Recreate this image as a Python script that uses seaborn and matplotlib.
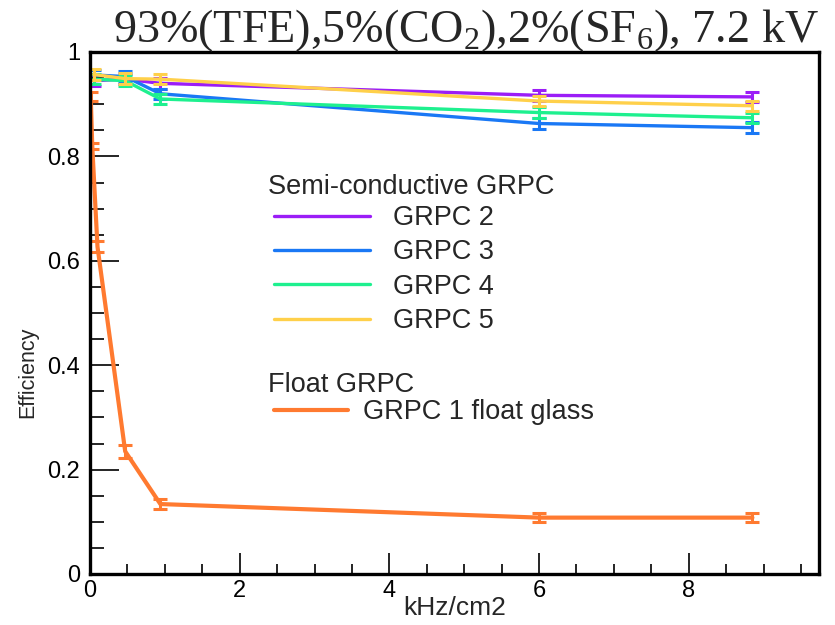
import numpy as np
import pandas as pd
import matplotlib
matplotlib.use("Agg")
import matplotlib.pyplot as plt
import seaborn as sns
from matplotlib.lines import Line2D
from matplotlib.ticker import MultipleLocator, FuncFormatter

sns.set_style("white")
plt.rcParams['font.family'] = ['Liberation Sans', 'DejaVu Sans']
plt.rcParams['mathtext.fontset'] = 'custom'
plt.rcParams['mathtext.rm'] = 'Liberation Serif'

# ---------------- data ----------------
semi_x = [0.05, 0.47, 0.94, 6.0, 8.85]
grpc2 = [0.945, 0.948, 0.940, 0.917, 0.914]
grpc3 = [0.956, 0.953, 0.920, 0.863, 0.855]
grpc4 = [0.948, 0.945, 0.910, 0.884, 0.874]
grpc5 = [0.957, 0.949, 0.948, 0.906, 0.897]
semi_err = [0.010, 0.010, 0.010, 0.010, 0.010]

float_x = [0.01, 0.03, 0.10, 0.47, 0.94, 6.0, 8.85]
grpc1 = [0.915, 0.820, 0.627, 0.235, 0.134, 0.108, 0.108]
float_err = [0.008, 0.006, 0.010, 0.012, 0.010, 0.008, 0.008]

names = ["GRPC 2", "GRPC 3", "GRPC 4", "GRPC 5", "GRPC 1 float glass"]
colors = ["#9b1df7", "#1a78f5", "#1ef08f", "#ffd04a", "#ff7a30"]

rows = []
for nm, ys in zip(names[:4], [grpc2, grpc3, grpc4, grpc5]):
    for x, y, e in zip(semi_x, ys, semi_err):
        rows.append((nm, x, y, e))
for x, y, e in zip(float_x, grpc1, float_err):
    rows.append((names[4], x, y, e))
df = pd.DataFrame(rows, columns=["series", "rate", "eff", "err"])

fig = plt.figure(figsize=(8.35, 6.25), dpi=100)
ax = fig.add_axes([90/835, 1-574/625, (819-90)/835, (574-52)/625])

palette = dict(zip(names, colors))
widths = {n: 2.4 for n in names[:4]}
widths[names[4]] = 3.0
for nm in names:
    sub = df[df.series == nm]
    sns.lineplot(data=sub, x="rate", y="eff", color=palette[nm], lw=widths[nm],
                 ax=ax, legend=False, sort=False, estimator=None)
    ax.errorbar(sub["rate"], sub["eff"], yerr=sub["err"], fmt="none",
                ecolor=palette[nm], elinewidth=2.2, capsize=5, capthick=2.2)

ax.set_xlim(0, 9.74)
ax.set_ylim(0, 1)
ax.xaxis.set_major_locator(MultipleLocator(2))
ax.xaxis.set_minor_locator(MultipleLocator(0.5))
ax.yaxis.set_major_locator(MultipleLocator(0.2))
ax.yaxis.set_minor_locator(MultipleLocator(0.05))
fmt = FuncFormatter(lambda v, p: "%g" % round(v, 2))
ax.xaxis.set_major_formatter(fmt)
ax.yaxis.set_major_formatter(fmt)
ax.tick_params(axis="both", which="both", direction="in", top=False, right=False,
               bottom=True, left=True, labelsize=17, colors="black")
ax.tick_params(axis="x", which="major", length=15, width=1.2, pad=4)
ax.tick_params(axis="x", which="minor", length=7, width=1.2)
ax.tick_params(axis="y", which="major", length=21, width=1.2, pad=7)
ax.tick_params(axis="y", which="minor", length=10, width=1.2)
for s in ax.spines.values():
    s.set_visible(True)
    s.set_color("black")
    s.set_linewidth(2.4)
ax.set_xlabel("")
ax.set_ylabel("")
fig.text(455/835, 1-608/625, "kHz/cm2", ha="center", va="center", fontsize=19)
fig.text(28/835, 1-372/625, "Efficiency", ha="center", va="center", rotation=90, fontsize=15.5)

fig.text(819/835, 1-42/625, r"93%(TFE),5%(CO$_\mathregular{2}$),2%(SF$_\mathregular{6}$), 7.2 kV",
         ha="right", va="baseline", fontsize=33.2, family="Liberation Serif")

fs = 19.5
fig.text(268/835, 1-187/625, "Semi-conductive GRPC", ha="left", va="center", fontsize=fs)
fig.text(268/835, 1-385/625, "Float GRPC", ha="left", va="center", fontsize=fs)

h_semi = [Line2D([], [], color=c, lw=2.4) for c in colors[:4]]
leg1 = ax.legend(h_semi, names[:4], loc="upper left",
                 bbox_to_anchor=((274-90)/729, 1-(205-52)/522), frameon=False, fontsize=fs,
                 handlelength=3.55, handletextpad=0.85, labelspacing=0.31,
                 borderpad=0, borderaxespad=0)
ax.add_artist(leg1)
h_float = [Line2D([], [], color=colors[4], lw=3.0)]
leg2 = ax.legend(h_float, names[4:], loc="upper left",
                 bbox_to_anchor=((274-90)/729, 1-(399-52)/522), frameon=False, fontsize=fs,
                 handlelength=2.74, handletextpad=0.55,
                 borderpad=0, borderaxespad=0)

fig.savefig("out.png", dpi=100)
